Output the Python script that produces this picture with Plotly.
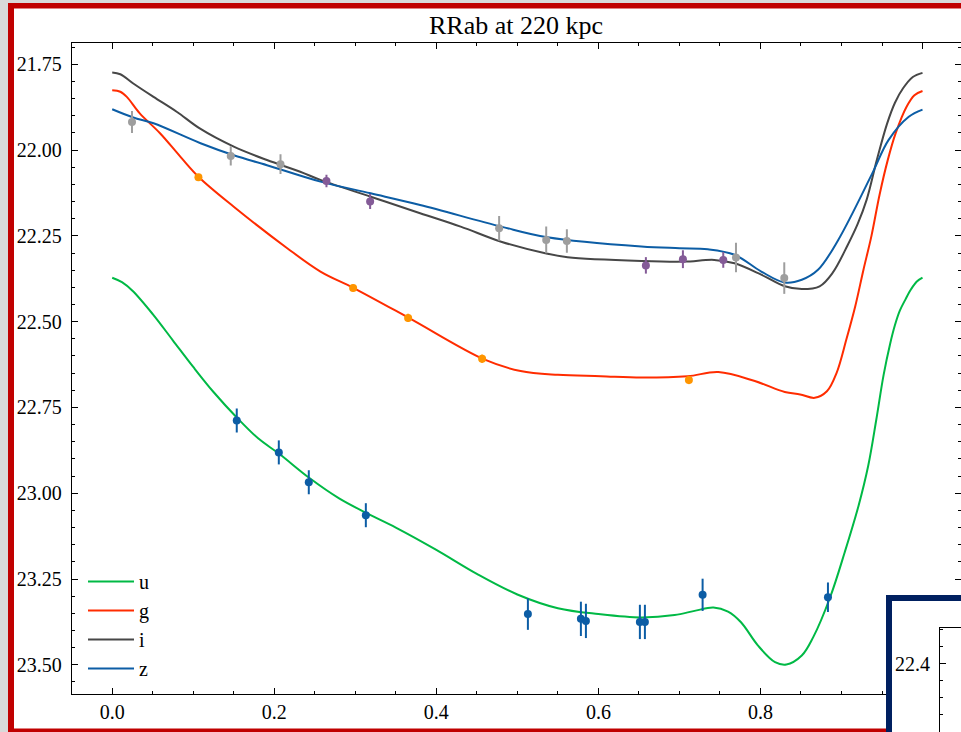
import plotly.graph_objects as go

# ---------------- data ----------------
# template light curves (phase, magnitude)
phase_u = [0.0, 0.012, 0.025, 0.05, 0.075, 0.1, 0.125, 0.154, 0.18, 0.206, 0.243, 0.28, 0.314,
           0.35, 0.4, 0.45, 0.5, 0.55, 0.6, 0.653, 0.694, 0.72, 0.742, 0.76, 0.776, 0.797, 0.818,
           0.832, 0.851, 0.865, 0.886, 0.904, 0.921, 0.933, 0.943, 0.952, 0.96, 0.966, 0.972, 0.979,
           0.986, 0.993, 1.0]
mag_u = [22.372, 22.385, 22.41, 22.478, 22.555, 22.632, 22.705, 22.78, 22.84, 22.885, 22.955, 23.015,
         23.058, 23.1, 23.165, 23.235, 23.295, 23.335, 23.352, 23.362, 23.355, 23.342, 23.333, 23.345,
         23.376, 23.444, 23.492, 23.499, 23.473, 23.42, 23.303, 23.172, 23.037, 22.92, 22.785, 22.655,
         22.565, 22.51, 22.468, 22.435, 22.405, 22.383, 22.372]

phase_g = [0.0, 0.01, 0.018, 0.034, 0.059, 0.084, 0.107, 0.15, 0.216, 0.257, 0.298, 0.366, 0.459,
           0.504, 0.55, 0.603, 0.653, 0.71, 0.748, 0.793, 0.83, 0.849, 0.867, 0.882, 0.894, 0.906,
           0.917, 0.927, 0.937, 0.947, 0.957, 0.967, 0.98, 0.99, 1.0]
mag_g = [21.826, 21.83, 21.845, 21.893, 21.951, 22.019, 22.079, 22.165, 22.286, 22.354, 22.402,
         22.489, 22.61, 22.644, 22.655, 22.659, 22.663, 22.659, 22.647, 22.673, 22.705, 22.712,
         22.722, 22.703, 22.649, 22.552, 22.455, 22.35, 22.25, 22.13, 22.03, 21.95, 21.875, 21.84, 21.828]

phase_i = [0.0, 0.01, 0.026, 0.051, 0.08, 0.108, 0.15, 0.191, 0.232, 0.257, 0.319, 0.38, 0.43, 0.48,
           0.537, 0.562, 0.653, 0.706, 0.743, 0.768, 0.801, 0.83, 0.851, 0.873, 0.889, 0.908, 0.92,
           0.931, 0.9435, 0.956, 0.966, 0.976, 0.988, 1.0]
mag_i = [21.774, 21.779, 21.806, 21.845, 21.889, 21.937, 21.99, 22.029, 22.063, 22.087, 22.136, 22.184,
         22.223, 22.267, 22.302, 22.312, 22.323, 22.325, 22.32, 22.33, 22.363, 22.397, 22.405, 22.397,
         22.358, 22.275, 22.215, 22.145, 22.03, 21.925, 21.862, 21.82, 21.787, 21.775]

phase_z = [0.0, 0.026, 0.051, 0.109, 0.15, 0.191, 0.257, 0.319, 0.38, 0.48, 0.537, 0.653, 0.7, 0.735,
           0.768, 0.801, 0.83, 0.851, 0.871, 0.896, 0.938, 0.958, 0.983, 1.0]
mag_z = [21.881, 21.905, 21.922, 21.98, 22.015, 22.044, 22.092, 22.126, 22.16, 22.223, 22.254, 22.281,
         22.286, 22.289, 22.305, 22.354, 22.386, 22.378, 22.349, 22.262, 22.068, 21.971, 21.903, 21.882]

# observed points (phase, magnitude, error)
obs_u_phase = [0.1537, 0.2056, 0.2426, 0.313, 0.513, 0.5784, 0.5846, 0.6512, 0.6574, 0.7286, 0.8833]
obs_u_mag = [22.788, 22.881, 22.968, 23.064, 23.352, 23.366, 23.372, 23.375, 23.375, 23.296, 23.303]
obs_u_err = [0.035, 0.035, 0.035, 0.035, 0.046, 0.05, 0.05, 0.05, 0.05, 0.047, 0.043]

obs_g_phase = [0.1064, 0.2973, 0.3652, 0.4565, 0.7117]
obs_g_mag = [22.079, 22.402, 22.489, 22.608, 22.67]
obs_g_err = [0.008, 0.01, 0.012, 0.012, 0.012]

obs_i_phase = [0.2644, 0.3183, 0.6586, 0.7043, 0.7541]
obs_i_mag = [22.09, 22.15, 22.336, 22.318, 22.32]
obs_i_err = [0.018, 0.022, 0.024, 0.026, 0.023]

obs_z_phase = [0.0244, 0.1463, 0.2077, 0.4775, 0.5356, 0.5611, 0.7698, 0.8294]
obs_z_mag = [21.918, 22.017, 22.041, 22.228, 22.262, 22.265, 22.313, 22.373]
obs_z_err = [0.032, 0.028, 0.029, 0.036, 0.039, 0.034, 0.043, 0.046]

band_names = ["u", "g", "i", "z"]
x_ticks = [0.0, 0.2, 0.4, 0.6, 0.8, 1.0]
y_ticks = [21.75, 22.0, 22.25, 22.5, 22.75, 23.0, 23.25, 23.5]
inset_y_ticks = [22.4, 22.6]

# ---------------- styling ----------------
W, H = 961, 732
FONT = "Liberation Serif"
line_cols = ["#00B945", "#FF2C00", "#474747", "#0C5DA5"]
pt_cols = ["#0C5DA5", "#FF9500", "#845B97", "#9E9E9E"]

def px(x):
    return x / W

def py(y):
    return (H - y) / H

fig = go.Figure()

curves = [(phase_u, mag_u), (phase_g, mag_g), (phase_i, mag_i), (phase_z, mag_z)]
for (ph, mg), name, col in zip(curves, band_names, line_cols):
    fig.add_trace(go.Scatter(x=ph, y=mg, mode="lines", name=name,
                             line=dict(color=col, width=2, shape="spline", smoothing=1.0),
                             hoverinfo="skip"))

obs = [(obs_u_phase, obs_u_mag, obs_u_err), (obs_g_phase, obs_g_mag, obs_g_err),
       (obs_i_phase, obs_i_mag, obs_i_err), (obs_z_phase, obs_z_mag, obs_z_err)]
for (ph, mg, er), col in zip(obs, pt_cols):
    fig.add_trace(go.Scatter(x=ph, y=mg, mode="markers", showlegend=False,
                             marker=dict(color=col, size=8),
                             error_y=dict(type="data", array=er, visible=True, color=col,
                                          thickness=2, width=0)))

# covering panel (white area in navy box) and inset axes
fig.add_trace(go.Scatter(x=[None], y=[None], xaxis="x2", yaxis="y2", showlegend=False, hoverinfo="skip"))
fig.add_trace(go.Scatter(x=[None], y=[None], xaxis="x3", yaxis="y3", showlegend=False, hoverinfo="skip"))

axis_common = dict(showline=True, linecolor="black", linewidth=1, mirror="allticks",
                   ticks="inside", ticklen=6, tickwidth=1, tickcolor="black",
                   showgrid=False, zeroline=False,
                   tickfont=dict(family=FONT, size=20, color="black"))

fig.update_layout(
    width=W, height=H, autosize=False,
    margin=dict(l=0, r=0, t=0, b=0, autoexpand=False),
    paper_bgcolor="#d9d9d9", plot_bgcolor="white",
    font=dict(family=FONT, size=20, color="black"),
    title=dict(text="RRab at 220 kpc", x=px(516), y=py(25), xanchor="center", yanchor="middle",
               xref="paper", yref="paper", font=dict(family=FONT, size=26, color="black")),
    showlegend=True,
    legend=dict(x=px(83), y=py(562), xanchor="left", yanchor="top",
                bgcolor="rgba(0,0,0,0)", borderwidth=0, tracegroupgap=0,
                font=dict(family=FONT, size=20, color="black"), itemwidth=46),
    xaxis=dict(domain=[px(71.7), 1.0], range=[-0.05, 1.0475],
               tickvals=x_ticks, ticktext=[f"{v:.1f}" for v in x_ticks],
               minor=dict(ticks="inside", ticklen=3, dtick=0.05, tick0=0, tickcolor="black"),
               ticklabelstandoff=0, anchor="y", **axis_common),
    yaxis=dict(domain=[py(694), py(43)], range=[23.585, 21.688],
               tickvals=y_ticks, ticktext=[f"{v:.2f}" for v in y_ticks],
               minor=dict(ticks="inside", ticklen=3, dtick=0.05, tick0=21.75, tickcolor="black"),
               ticklabelstandoff=5, anchor="x", **axis_common),
    xaxis2=dict(domain=[px(889), 1.0], range=[0, 1], visible=False, anchor="y2"),
    yaxis2=dict(domain=[0.0, py(598)], range=[0, 1], visible=False, anchor="x2"),
    xaxis3=dict(domain=[px(940), 1.0], range=[0, 1], anchor="y3", side="top",
                showline=True, linecolor="black", linewidth=1, ticks="", showticklabels=False,
                showgrid=False, zeroline=False),
    yaxis3=dict(domain=[0.0, py(628.3)], range=[22.6, 22.297], anchor="x3",
                tickvals=inset_y_ticks, ticktext=[f"{v:.1f}" for v in inset_y_ticks],
                showline=True, linecolor="black", linewidth=1, ticks="inside", ticklen=6,
                tickcolor="black", showgrid=False, zeroline=False, ticklabelstandoff=5,
                minor=dict(ticks="inside", ticklen=3, dtick=0.05, tick0=22.4, tickcolor="black"),
                tickfont=dict(family=FONT, size=20, color="black")),
    shapes=[
        dict(type="rect", xref="paper", yref="paper", layer="below",
             x0=px(8), x1=1.05, y0=-0.05, y1=py(3), fillcolor="#C00000", line=dict(width=0)),
        dict(type="rect", xref="paper", yref="paper", layer="below",
             x0=px(14), x1=1.05, y0=py(728.5), y1=py(8.5), fillcolor="white", line=dict(width=0)),
        dict(type="rect", xref="paper", yref="paper", layer="above",
             x0=px(889), x1=1.05, y0=-0.05, y1=py(598), fillcolor="rgba(0,0,0,0)",
             line=dict(color="#002060", width=6)),
    ],
)

fig.write_html("out.html")
